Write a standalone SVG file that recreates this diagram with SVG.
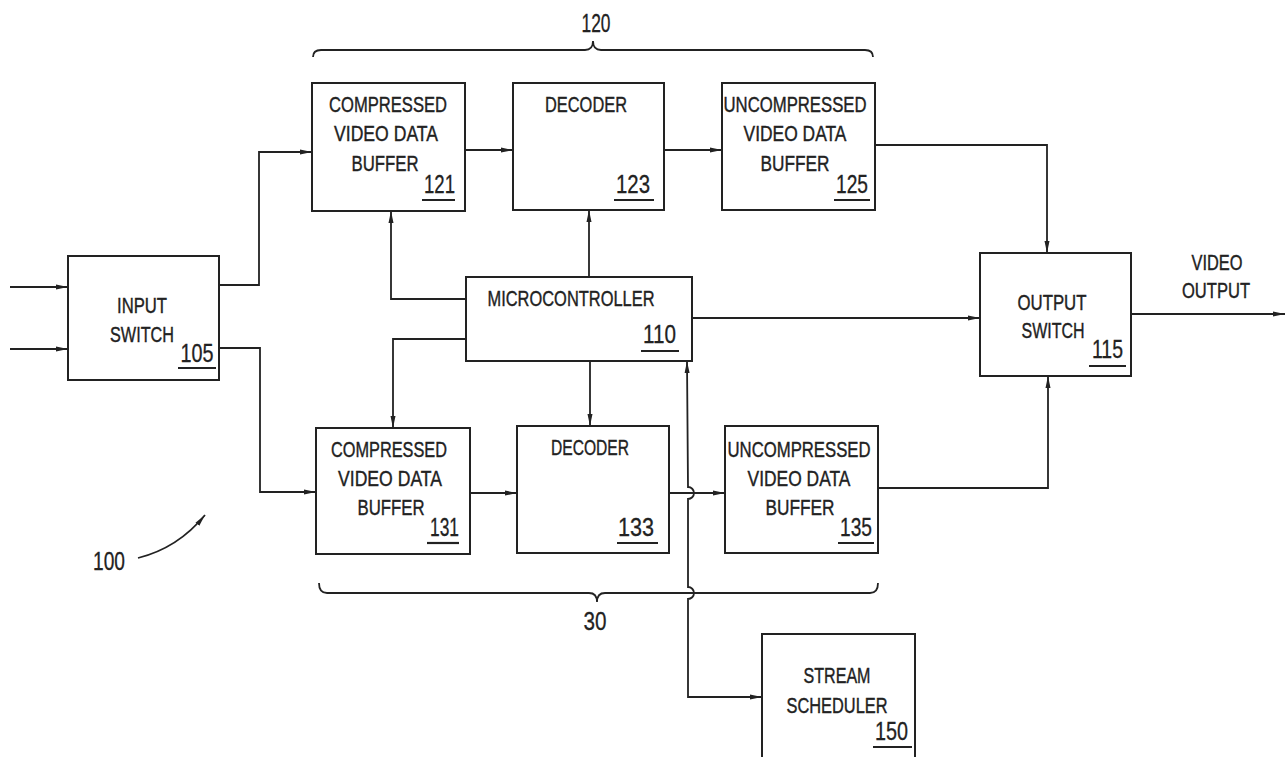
<svg xmlns="http://www.w3.org/2000/svg" width="1287" height="757" viewBox="0 0 1287 757">
<style>
.box{fill:#fff;stroke:#222;stroke-width:2}
.ln{fill:none;stroke:#222;stroke-width:1.8}
.t{font-family:"Liberation Sans",Arial,sans-serif;font-size:22px;fill:#222;stroke:#222;stroke-width:0.4;text-anchor:middle}
.n{font-family:"Liberation Sans",Arial,sans-serif;font-size:26px;fill:#222;stroke:#222;stroke-width:0.3;text-anchor:middle}
.u{stroke:#222;stroke-width:2.2}
</style>
<defs>
<marker id="ar" viewBox="0 0 12 6" refX="12" refY="3" markerWidth="12" markerHeight="6" markerUnits="userSpaceOnUse" orient="auto-start-reverse">
<path d="M0,0.5 L12,3 L0,5.5 z" fill="#222"/>
</marker>
</defs>
<rect width="1287" height="757" fill="#fff"/>
<g id="connectors">
<path class="ln" d="M10,287 L68,287" marker-end="url(#ar)"/>
<path class="ln" d="M10,349 L68,349" marker-end="url(#ar)"/>
<path class="ln" d="M219,285 L259,285 L259,152 L312,152" marker-end="url(#ar)"/>
<path class="ln" d="M219,348 L260,348 L260,492 L316,492" marker-end="url(#ar)"/>
<path class="ln" d="M465,150 L513,150" marker-end="url(#ar)"/>
<path class="ln" d="M664,150 L722,150" marker-end="url(#ar)"/>
<path class="ln" d="M470,493 L517,493" marker-end="url(#ar)"/>
<path class="ln" d="M669,493 L725,493" marker-end="url(#ar)"/>
<path class="ln" d="M466,299 L391,299 L391,211" marker-end="url(#ar)"/>
<path class="ln" d="M589,277 L589,210" marker-end="url(#ar)"/>
<path class="ln" d="M466,339 L393,339 L393,428" marker-end="url(#ar)"/>
<path class="ln" d="M590,361 L590,426" marker-end="url(#ar)"/>
<path class="ln" d="M692,318 L980,318" marker-end="url(#ar)"/>
<path class="ln" d="M875,145 L1047,145 L1047,253" marker-end="url(#ar)"/>
<path class="ln" d="M878,488 L1048,488 L1048,376" marker-end="url(#ar)"/>
<path class="ln" d="M1131,314 L1285,314" marker-end="url(#ar)"/>
<path class="ln" d="M762,697 L688,697 L688,599 A6,6 0 0,0 688,587 L688,499 A6,6 0 0,0 688,487 L687,361" marker-start="url(#ar)" marker-end="url(#ar)"/>
<path class="ln" d="M138,558 Q178,548 205,515" marker-end="url(#ar)"/>
<path class="ln" d="M313,57 Q313,50 321,50 L585,50 Q593,50 593,41 Q593,50 601,50 L865,50 Q873,50 873,57"/>
<path class="ln" d="M319,583 Q319,593 327,593 L589,593 Q597,593 597,602 Q597,593 605,593 L870,593 Q878,593 878,583"/>
</g>
<g id="input-switch">
<rect class="box" x="68" y="256" width="151" height="124"/>
<text class="t" x="142" y="313" textLength="50" lengthAdjust="spacingAndGlyphs">INPUT</text>
<text class="t" x="142" y="342" textLength="64" lengthAdjust="spacingAndGlyphs">SWITCH</text>
<text class="n" x="197" y="362" textLength="33" lengthAdjust="spacingAndGlyphs">105</text>
<line class="u" x1="178" y1="368" x2="216" y2="368"/>
</g>
<g id="buffer-121">
<rect class="box" x="312" y="83" width="153" height="128"/>
<text class="t" x="388" y="112" textLength="118" lengthAdjust="spacingAndGlyphs">COMPRESSED</text>
<text class="t" x="386" y="141" textLength="104" lengthAdjust="spacingAndGlyphs">VIDEO DATA</text>
<text class="t" x="385" y="171" textLength="67" lengthAdjust="spacingAndGlyphs">BUFFER</text>
<text class="n" x="439.5" y="193" textLength="31" lengthAdjust="spacingAndGlyphs">121</text>
<line class="u" x1="422" y1="200" x2="455" y2="200"/>
</g>
<g id="decoder-123">
<rect class="box" x="513" y="83" width="151" height="127"/>
<text class="t" x="586" y="112" textLength="82" lengthAdjust="spacingAndGlyphs">DECODER</text>
<text class="n" x="633" y="193" textLength="34" lengthAdjust="spacingAndGlyphs">123</text>
<line class="u" x1="614" y1="200" x2="654" y2="200"/>
</g>
<g id="buffer-125">
<rect class="box" x="722" y="83" width="153" height="127"/>
<text class="t" x="795" y="112" textLength="143" lengthAdjust="spacingAndGlyphs">UNCOMPRESSED</text>
<text class="t" x="795" y="141" textLength="103" lengthAdjust="spacingAndGlyphs">VIDEO DATA</text>
<text class="t" x="795" y="171" textLength="69" lengthAdjust="spacingAndGlyphs">BUFFER</text>
<text class="n" x="852" y="193" textLength="32" lengthAdjust="spacingAndGlyphs">125</text>
<line class="u" x1="834" y1="200" x2="870" y2="200"/>
</g>
<g id="brace-120">
<text class="n" x="596" y="32" font-size="23" textLength="29" lengthAdjust="spacingAndGlyphs">120</text>
</g>
<g id="microcontroller-110">
<rect class="box" x="466" y="277" width="226" height="84"/>
<text class="t" x="571" y="306" textLength="167" lengthAdjust="spacingAndGlyphs">MICROCONTROLLER</text>
<text class="n" x="659.5" y="343" textLength="33" lengthAdjust="spacingAndGlyphs">110</text>
<line class="u" x1="641" y1="351" x2="679" y2="351"/>
</g>
<g id="buffer-131">
<rect class="box" x="316" y="428" width="154" height="126"/>
<text class="t" x="389" y="457" textLength="116" lengthAdjust="spacingAndGlyphs">COMPRESSED</text>
<text class="t" x="390" y="486" textLength="104" lengthAdjust="spacingAndGlyphs">VIDEO DATA</text>
<text class="t" x="391" y="515" textLength="67" lengthAdjust="spacingAndGlyphs">BUFFER</text>
<text class="n" x="444.5" y="536" textLength="29" lengthAdjust="spacingAndGlyphs">131</text>
<line class="u" x1="427" y1="543" x2="459" y2="543"/>
</g>
<g id="decoder-133">
<rect class="box" x="517" y="426" width="152" height="127"/>
<text class="t" x="590" y="455" textLength="78" lengthAdjust="spacingAndGlyphs">DECODER</text>
<text class="n" x="636" y="536" textLength="36" lengthAdjust="spacingAndGlyphs">133</text>
<line class="u" x1="617" y1="543" x2="658" y2="543"/>
</g>
<g id="buffer-135">
<rect class="box" x="725" y="426" width="153" height="127"/>
<text class="t" x="799" y="457" textLength="143" lengthAdjust="spacingAndGlyphs">UNCOMPRESSED</text>
<text class="t" x="799" y="486" textLength="103" lengthAdjust="spacingAndGlyphs">VIDEO DATA</text>
<text class="t" x="800" y="515" textLength="69" lengthAdjust="spacingAndGlyphs">BUFFER</text>
<text class="n" x="856" y="536" textLength="32" lengthAdjust="spacingAndGlyphs">135</text>
<line class="u" x1="838" y1="543" x2="874" y2="543"/>
</g>
<g id="brace-30">
<text class="n" x="595" y="630" font-size="23" textLength="23" lengthAdjust="spacingAndGlyphs">30</text>
</g>
<g id="output-switch-115">
<rect class="box" x="980" y="253" width="151" height="123"/>
<text class="t" x="1052" y="310" textLength="69" lengthAdjust="spacingAndGlyphs">OUTPUT</text>
<text class="t" x="1053" y="338" textLength="63" lengthAdjust="spacingAndGlyphs">SWITCH</text>
<text class="n" x="1107.5" y="358" textLength="31" lengthAdjust="spacingAndGlyphs">115</text>
<line class="u" x1="1089" y1="366" x2="1126" y2="366"/>
</g>
<g id="video-output-label">
<text class="t" x="1217" y="270" textLength="51" lengthAdjust="spacingAndGlyphs">VIDEO</text>
<text class="t" x="1216" y="298" textLength="68" lengthAdjust="spacingAndGlyphs">OUTPUT</text>
</g>
<g id="stream-scheduler-150">
<rect class="box" x="762" y="634" width="153" height="140"/>
<text class="t" x="837" y="683" textLength="67" lengthAdjust="spacingAndGlyphs">STREAM</text>
<text class="t" x="837" y="713" textLength="101" lengthAdjust="spacingAndGlyphs">SCHEDULER</text>
<text class="n" x="891.5" y="740" textLength="33" lengthAdjust="spacingAndGlyphs">150</text>
<line class="u" x1="873" y1="747" x2="912" y2="747"/>
</g>
<g id="label-100">
<text class="n" x="109" y="570" font-size="23" textLength="32" lengthAdjust="spacingAndGlyphs">100</text>
</g>
</svg>
